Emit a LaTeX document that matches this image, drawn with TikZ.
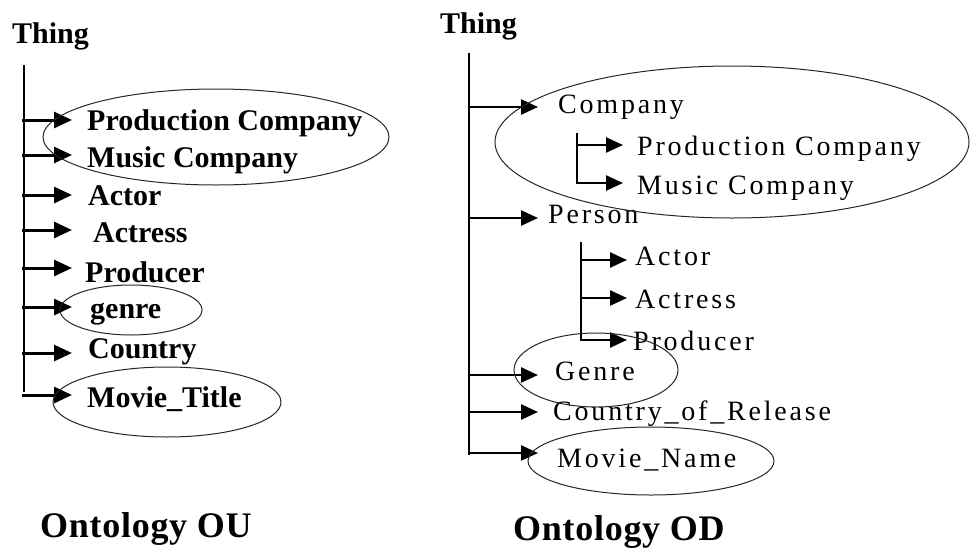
\documentclass[tikz,border=0pt]{standalone}
\usepackage{fontspec}
\setmainfont{Liberation Serif}
\newfontfamily\rlbl[LetterSpace=10]{Liberation Serif}
\newfontfamily\ttl[LetterSpace=2]{Liberation Serif}
\usetikzlibrary{arrows.meta}
\begin{document}
\begin{tikzpicture}[x=1pt,y=-1pt,
  trunk/.style={line width=2pt},
  arrL/.style={line width=3pt,-{Triangle[length=18pt,width=16pt]}},
  arrR/.style={line width=2.5pt,-{Triangle[length=17pt,width=15pt]}},
  lt/.style={inner sep=0pt,anchor=base west,font=\fontsize{30}{32}\selectfont\bfseries},
  rt/.style={inner sep=0pt,anchor=base west,font=\rlbl\fontsize{28}{30}\selectfont},
  root/.style={inner sep=0pt,anchor=base west,font=\fontsize{30}{32}\selectfont\bfseries},
  ontotitle/.style={inner sep=0pt,anchor=base west,font=\ttl\fontsize{36}{38}\selectfont\bfseries},
  ell/.style={line width=1pt,black!85}]
\useasboundingbox (0,0) rectangle (972,549);

% ---------- Ontology OU ----------
\node[root] (thingL) at (12,43) {Thing};
\coordinate (lTop) at (24,65);
\coordinate (lBot) at (24,392);
\draw[trunk] (lTop) -- (lBot);

% name / arrow y / text x / text baseline / label
\foreach \n/\y/\x/\b/\t in {
  lpc/120/87/130/Production Company,
  lmc/155/87/167/Music Company,
  lac/195/88/205/Actor,
  las/230/93/242/Actress,
  lpr/268/85/282/Producer,
  lge/307/90/318/genre,
  lco/353/88/358/Country,
  lmt/395/87/407/Movie\_Title}{
  \node[lt] (\n) at (\x,\b) {\t};
  \coordinate (b-\n) at (22,\y);
  \pgfmathsetmacro\gap{\x-72}
  \draw[arrL,shorten >=\gap pt] (b-\n) -- (b-\n -| \n.west);
}

\draw[ell] (216,137) ellipse [x radius=173, y radius=48];
\draw[ell] (131,310) ellipse [x radius=71, y radius=25];
\draw[ell] (167,402) ellipse [x radius=114, y radius=35];

\node[ontotitle] (ou) at (40,537) {Ontology OU};

% ---------- Ontology OD ----------
\node[root] (thingR) at (440,33) {Thing};
\coordinate (rTop) at (469,53);
\coordinate (rBot) at (469,455);
\draw[trunk] (rTop) -- (rBot);

% sub-class trunks of Company and Person
\coordinate (cTop) at (577,133);
\coordinate (cBot) at (577,184);
\draw[trunk] (cTop) -- (cBot);
\coordinate (pTop) at (581,242);
\coordinate (pBot) at (581,341);
\draw[trunk] (pTop) -- (pBot);

% name / arrow start x / arrow y / arrow tip x / text x / text baseline / label
\foreach \n/\s/\y/\tip/\x/\b/\t in {
  rcm/468/107/538/558/113/Company,
  rpe/468/218/538/548/223/Person,
  rge/468/375/538/555/380/Genre,
  rco/468/412/538/553/420/Country\_of\_Release,
  rmn/468/453/538/557/467/Movie\_Name,
  rpc/576/145/623/637/155/Production Company,
  rmc/576/183/623/637/194/Music Company,
  rac/580/260/627/635/265/Actor,
  ras/580/298/627/635/308/Actress,
  rpr/580/340/627/633/350/Producer}{
  \node[rt] (\n) at (\x,\b) {\t};
  \coordinate (b-\n) at (\s,\y);
  \pgfmathsetmacro\gap{\x-\tip}
  \draw[arrR,shorten >=\gap pt] (b-\n) -- (b-\n -| \n.west);
}

\draw[ell] (732,142) ellipse [x radius=237, y radius=76];
\draw[ell] (596,370) ellipse [x radius=82, y radius=37];
\draw[ell] (651,461) ellipse [x radius=123, y radius=34];

\node[ontotitle] (od) at (513,540) {Ontology OD};
\end{tikzpicture}
\end{document}
